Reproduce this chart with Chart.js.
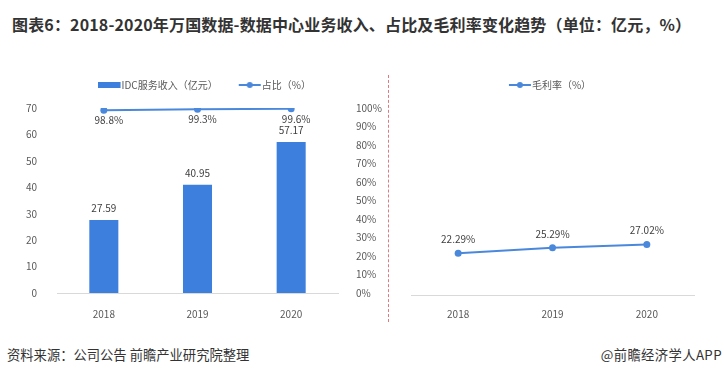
<!DOCTYPE html>
<html><head><meta charset="utf-8">
<script src="https://cdn.jsdelivr.net/npm/chart.js@4"></script>
<style>
html,body{margin:0;padding:0;background:#fff;}
body{width:724px;height:376px;position:relative;overflow:hidden;font-family:"Noto Sans CJK SC","Noto Sans",sans-serif;}
#title{position:absolute;left:12px;top:12px;font-size:16px;letter-spacing:0.15px;font-weight:bold;color:#333;white-space:nowrap;line-height:24px;}
#src{position:absolute;left:7px;top:346px;font-size:13.3px;color:#333;white-space:nowrap;line-height:18px;}
#app{position:absolute;right:2px;top:346px;font-size:13.3px;letter-spacing:0.4px;color:#333;white-space:nowrap;line-height:18px;}
#divider{position:absolute;left:388px;top:75px;height:247px;border-left:1px dashed #e07a80;}
#c1{position:absolute;left:0;top:60px;}
#c2{position:absolute;left:390px;top:60px;}
</style>
</head><body>
<div id="title">图表6：2018-2020年万国数据-数据中心业务收入、占比及毛利率变化趋势（单位：亿元，%）</div>
<canvas id="c1" width="385" height="270"></canvas>
<div id="divider"></div>
<canvas id="c2" width="334" height="270"></canvas>
<div id="src">资料来源：公司公告 前瞻产业研究院整理</div>
<div id="app">@前瞻经济学人APP</div>
<script>
const categories = ['2018', '2019', '2020'];
const idcRevenue = [27.59, 40.95, 57.17];
const idcShare = [98.8, 99.3, 99.6];
const grossMargin = [22.29, 25.29, 27.02];
const revenueLabel = 'IDC服务收入（亿元）';
const shareLabel = '占比（%）';
const marginLabel = '毛利率（%）';

const BAR = '#3d7fdc';
const LINE = '#4a88dc';
const TXT = '#595959';
const FONT = '"Noto Sans CJK SC", "Noto Sans", sans-serif';

function makeIcon(kind){
  const c = document.createElement('canvas');
  c.width = 25; c.height = 8;
  const g = c.getContext('2d');
  if (kind === 'bar') { g.fillStyle = BAR; g.fillRect(0, 1, 23, 6); }
  else {
    g.strokeStyle = LINE; g.lineWidth = 2;
    g.beginPath(); g.moveTo(1, 4); g.lineTo(23, 4); g.stroke();
    g.fillStyle = LINE; g.beginPath(); g.arc(12, 4, 3, 0, Math.PI*2); g.fill();
  }
  return c;
}
const barIcon = makeIcon('bar');
const lineIcon = makeIcon('line');

const valueLabels = {
  id: 'valueLabels',
  afterDatasetsDraw(chart){
    const ctx = chart.ctx;
    chart.data.datasets.forEach((ds, i) => {
      const cfg = ds.valueLabel; if (!cfg) return;
      const meta = chart.getDatasetMeta(i);
      meta.data.forEach((el, j) => {
        ctx.save();
        ctx.font = '10px ' + FONT;
        ctx.fillStyle = '#404040';
        ctx.textAlign = 'center';
        ctx.textBaseline = 'middle';
        ctx.fillText(cfg.format(ds.data[j]), el.x + cfg.dx, el.y + cfg.dy);
        ctx.restore();
      });
    });
  }
};

const legendPlace = {
  id: 'legendPlace',
  afterInit(chart, args, opts){
    const lg = chart.legend; if (!lg) return;
    const orig = lg.fit;
    lg.fit = function(){ orig.call(this); this.height = opts.h; };
  },
  afterLayout(chart, args, opts){
    const lg = chart.legend; if (!lg) return;
    lg.left += opts.dx || 0; lg.right += opts.dx || 0;
    lg.top += opts.dy || 0; lg.bottom += opts.dy || 0;
  }
};

function legendOpts(icons){
  return {
    position: 'top',
    labels: {
      usePointStyle: true,
      pointStyleWidth: 13,
      boxHeight: 8,
      padding: 26,
      color: TXT,
      font: { size: 10, family: FONT },
      generateLabels(chart){
        const items = Chart.defaults.plugins.legend.labels.generateLabels(chart);
        items.forEach((it, i) => { it.pointStyle = icons[i]; });
        return items;
      }
    }
  };
}

const tickFont = { size: 10, family: FONT };

new Chart(document.getElementById('c1'), {
  data: {
    labels: categories,
    datasets: [
      { type: 'bar', label: revenueLabel, data: idcRevenue, yAxisID: 'y', backgroundColor: BAR,
        barPercentage: 0.31, categoryPercentage: 1,
        valueLabel: { dx: 0, dy: -12, format: v => v.toFixed(2) } },
      { type: 'line', label: shareLabel, data: idcShare, yAxisID: 'y1', borderColor: LINE, backgroundColor: LINE,
        borderWidth: 2, pointRadius: 3.5, pointBackgroundColor: LINE, pointBorderColor: LINE, pointBorderWidth: 0,
        valueLabel: { dx: 5, dy: 10, format: v => v.toFixed(1) + '%' } }
    ]
  },
  options: {
    responsive: false, animation: false, devicePixelRatio: 1,
    layout: { padding: { left: 20, right: 0, top: 0, bottom: 0 } },
    plugins: { legend: legendOpts([barIcon, lineIcon]), tooltip: { enabled: false }, legendPlace: { h: 48, dx: 4.7, dy: -6 } },
    scales: {
      x: { offset: true, grid: { display: false }, border: { color: '#d9d9d9' },
           ticks: { color: TXT, font: tickFont, padding: 7 },
           afterFit(s){ s.height = 37; } },
      y: { position: 'left', min: 0, max: 70, grid: { display: false }, border: { display: false },
           ticks: { stepSize: 10, color: TXT, font: tickFont, padding: 12 },
           afterFit(s){ s.width = 37; } },
      y1: { position: 'right', min: 0, max: 100, grid: { display: false }, border: { display: false },
           ticks: { stepSize: 10, color: TXT, font: tickFont, padding: 10, callback: v => v + '%' },
           afterFit(s){ s.width = 47; } }
    }
  },
  plugins: [valueLabels, legendPlace]
});

new Chart(document.getElementById('c2'), {
  type: 'line',
  data: {
    labels: categories,
    datasets: [
      { label: marginLabel, data: grossMargin, borderColor: LINE, backgroundColor: LINE,
        borderWidth: 2, pointRadius: 3.5, pointBackgroundColor: LINE, pointBorderColor: LINE, pointBorderWidth: 0,
        valueLabel: { dx: 0, dy: -14, format: v => v.toFixed(2) + '%' } }
    ]
  },
  options: {
    responsive: false, animation: false, devicePixelRatio: 1,
    layout: { padding: { left: 21, right: 30, top: 0, bottom: 0 } },
    plugins: { legend: legendOpts([lineIcon]), tooltip: { enabled: false }, legendPlace: { h: 48, dx: 0, dy: -6 } },
    scales: {
      x: { offset: true, grid: { display: false }, border: { color: '#d9d9d9' },
           ticks: { color: TXT, font: tickFont, padding: 5 },
           afterFit(s){ s.height = 35; } },
      y: { display: false, min: 0, max: 100 }
    }
  },
  plugins: [valueLabels, legendPlace]
});
</script>
</body></html>
